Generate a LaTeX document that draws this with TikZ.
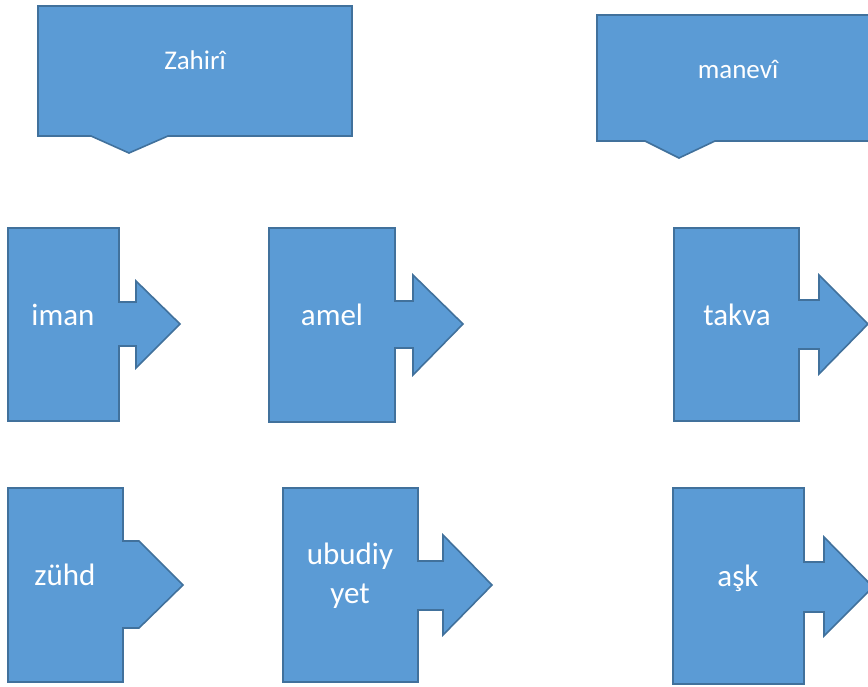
\documentclass[tikz,border=0pt]{standalone}
\usepackage{fontspec}
\setmainfont{Carlito}
\definecolor{boxfill}{HTML}{5B9BD5}
\definecolor{boxline}{HTML}{41719C}
\tikzset{
  shp/.style={fill=boxfill, draw=boxline, line width=1.6pt, line join=miter},
  titletext/.style={text=white, font=\fontsize{27}{32}\selectfont, inner sep=0pt},
  arrtext/.style={text=white, font=\fontsize{31}{39}\selectfont, inner sep=0pt, align=center},
}
\begin{document}
\begin{tikzpicture}[x=1pt,y=-1pt]
\useasboundingbox (0,0) rectangle (868,686);
% Zahiri
\path[shp] (38,6) -- (352,6) -- (352,136) -- (168,136) -- (129,153) -- (91,136) -- (38,136) -- cycle;
\node[titletext] (zahiri) at (195,60) {Zahirî};
% manevi
\path[shp] (597,15) -- (880,15) -- (880,141) -- (715,141) -- (679,158) -- (645,141) -- (597,141) -- cycle;
\node[titletext] (manevi) at (738,69) {manevî};
% iman
\path[shp] (8,228) -- (119,228) -- (119,302) -- (136,302) -- (136,281) -- (180,324) -- (136,368) -- (136,346) -- (119,346) -- (119,421) -- (8,421) -- cycle;
\node[arrtext] (iman) at (63,315) {iman};
% amel
\path[shp] (269,228) -- (395,228) -- (395,301) -- (413,301) -- (413,275) -- (463,324) -- (413,375) -- (413,348) -- (395,348) -- (395,422) -- (269,422) -- cycle;
\node[arrtext] (amel) at (332,315) {amel};
% takva
\path[shp] (674,228) -- (799,228) -- (799,300) -- (819,300) -- (819,275) -- (868,324) -- (819,374) -- (819,349) -- (799,349) -- (799,421) -- (674,421) -- cycle;
\node[arrtext] (takva) at (737,315) {takva};
% zuhd
\path[shp] (8,488) -- (123,488) -- (123,541) -- (139,541) -- (183,585) -- (139,628) -- (123,628) -- (123,682) -- (8,682) -- cycle;
\node[arrtext] (zuhd) at (65,575) {zühd};
% ubudiyet
\path[shp] (283,488) -- (418,488) -- (418,561) -- (443,561) -- (443,535) -- (492,585) -- (443,635) -- (443,610) -- (418,610) -- (418,682) -- (283,682) -- cycle;
\node[arrtext] (ubudiyet) at (350,576) {ubudiy\\yet};
% ask
\path[shp] (673,488) -- (804,488) -- (804,562) -- (824,562) -- (824,537) -- (873,587) -- (824,636) -- (824,612) -- (804,612) -- (804,684) -- (673,684) -- cycle;
\node[arrtext] (ask) at (738,578) {aşk};
\end{tikzpicture}
\end{document}
